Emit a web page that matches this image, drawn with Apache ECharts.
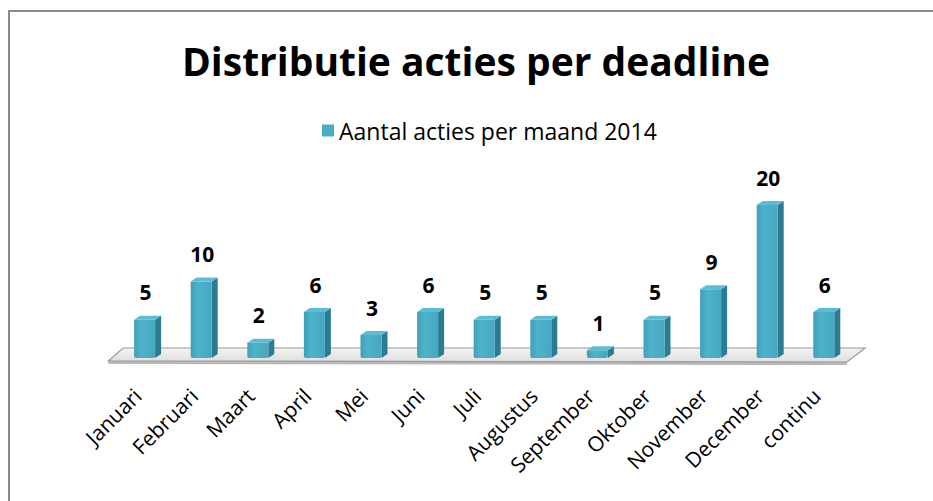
<!DOCTYPE html>
<html>
<head>
<meta charset="utf-8">
<script src="https://cdn.jsdelivr.net/npm/echarts@6/dist/echarts.min.js"></script>
<style>
  html, body { margin: 0; padding: 0; background: #ffffff; }
  #main { width: 933px; height: 501px; }
</style>
</head>
<body>
<div id="main"></div>
<script>
var maanden = ["Januari", "Februari", "Maart", "April", "Mei", "Juni", "Juli",
  "Augustus", "September", "Oktober", "November", "December", "continu"];
var acties = [5, 10, 2, 6, 3, 6, 5, 5, 1, 5, 9, 20, 6];
var reeksNaam = "Aantal acties per maand 2014";

var myChart = echarts.init(document.getElementById("main"), null, { renderer: "svg" });

var frontColor = new echarts.graphic.LinearGradient(0, 0, 1, 0, [
  { offset: 0, color: "#3f9fb8" },
  { offset: 0.35, color: "#4fb2cb" },
  { offset: 1, color: "#45a7c0" }
]);

// 3D-achtige staaf: voorkant, zijkant, bovenkant en waardelabel
function renderBar(params, api) {
  var v = api.value(1);
  var top = api.coord([api.value(0), v]);
  var base = api.coord([api.value(0), 0]);
  var w = 21, d = 6, h = 4;
  var l = top[0] - w / 2, r = top[0] + w / 2;
  return {
    type: "group",
    children: [
      {
        type: "polygon",
        shape: { points: [[r, base[1]], [r + d, base[1] - h], [r + d, top[1] - h], [r, top[1]]] },
        style: { fill: "#2b7c92" }
      },
      {
        type: "rect",
        shape: { x: l, y: top[1], width: w, height: base[1] - top[1], r: [0, 0, 2, 2] },
        style: { fill: frontColor }
      },
      {
        type: "polygon",
        shape: { points: [[l, top[1]], [l + d, top[1] - h], [r + d, top[1] - h], [r, top[1]]] },
        style: { fill: "#5cbcd4" }
      },
      {
        type: "text",
        style: {
          text: String(v), x: top[0] + 1, y: top[1] - 17,
          align: "center", verticalAlign: "bottom",
          fontFamily: "Open Sans", fontWeight: "bold", fontSize: 21, fill: "#000"
        }
      }
    ]
  };
}

// vloer onder de staven
function renderFloor(params, api) {
  var p0 = api.coord([0, 0]);
  var p1 = api.coord([maanden.length - 1, 0]);
  var bw = api.size([1, 0])[0];
  var fl = [p0[0] - 0.64 * bw, p0[1] + 3];
  var fr = [p1[0] + 0.41 * bw, p1[1] + 4];
  var br = [p1[0] + 0.73 * bw, p1[1] - 10];
  var bl = [p0[0] - 0.38 * bw, p0[1] - 10];
  return {
    type: "group",
    children: [
      {
        type: "polygon",
        shape: { points: [fl, fr, [fr[0], fr[1] + 3], [fl[0], fl[1] + 3]] },
        style: { fill: "#b9b9b9" }
      },
      {
        type: "polygon",
        shape: { points: [fl, fr, br, bl] },
        style: {
          fill: new echarts.graphic.LinearGradient(0, 0, 0, 1, [
            { offset: 0, color: "#f4f4f4" },
            { offset: 1, color: "#dedede" }
          ]),
          stroke: "#9a9a9a", lineWidth: 1.2
        }
      }
    ]
  };
}

var option = {
  backgroundColor: "#ffffff",
  animation: false,
  graphic: [
    {
      type: "rect", left: 8, top: 10, z: -10,
      shape: { width: 1000, height: 600 },
      style: { fill: "#ffffff", stroke: "#8a8a8a", lineWidth: 2 }
    }
  ],
  title: {
    text: "Distributie acties per deadline",
    left: 182,
    top: 41,
    padding: 0,
    textStyle: { fontFamily: "Open Sans", fontWeight: "bold", fontSize: 39, color: "#000" }
  },
  legend: {
    data: [{ name: reeksNaam, icon: "rect" }],
    left: 317,
    top: 114,
    itemWidth: 12,
    itemHeight: 12,
    itemGap: 4,
    textStyle: { fontFamily: "Open Sans", fontSize: 23, color: "#000" }
  },
  grid: { left: 116.3, right: 80.9, top: 205, bottom: 143 },
  xAxis: {
    type: "category",
    data: maanden,
    axisLine: { show: false },
    axisTick: { show: false },
    axisLabel: {
      rotate: 45, margin: 27, interval: 0, padding: [0, 10, 0, 0],
      fontFamily: "Open Sans", fontSize: 21, color: "#000"
    }
  },
  yAxis: { type: "value", min: 0, max: 20, show: false },
  series: [
    {
      type: "custom",
      name: "vloer",
      renderItem: renderFloor,
      data: [[0, 0]],
      z: 1,
      silent: true
    },
    {
      type: "custom",
      name: reeksNaam,
      renderItem: renderBar,
      itemStyle: { color: "#4bacc6" },
      data: acties.map(function (v, i) { return [i, v]; }),
      z: 2
    }
  ]
};
myChart.setOption(option);
</script>
</body>
</html>
